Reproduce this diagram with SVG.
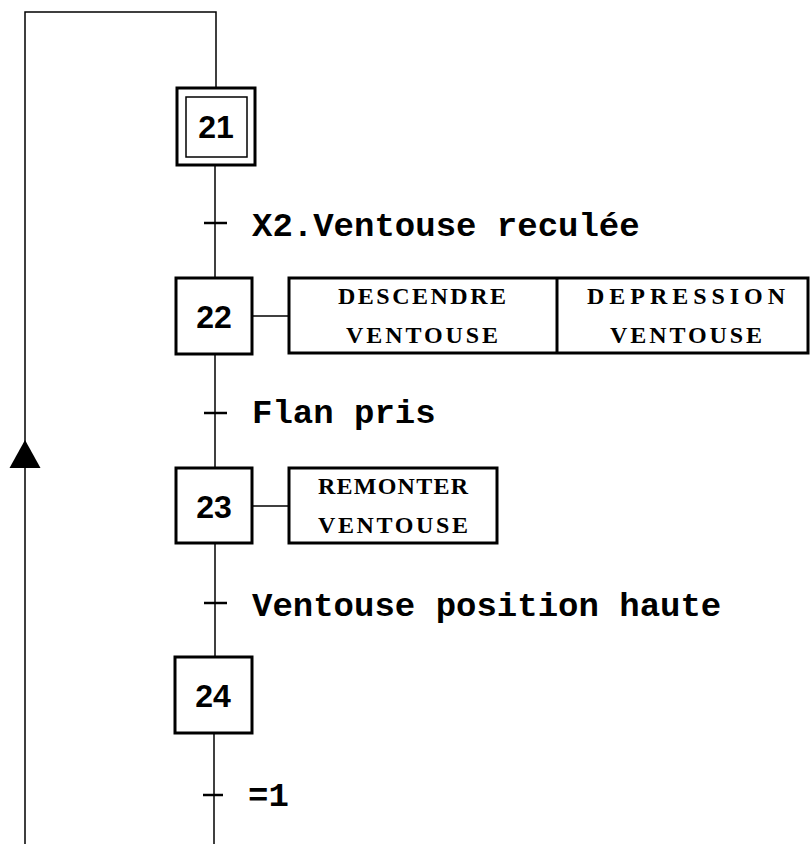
<svg xmlns="http://www.w3.org/2000/svg" width="811" height="844" viewBox="0 0 811 844">
<style>
.ln{stroke:#000;stroke-width:1.5;fill:none}
.box{stroke:#000;stroke-width:3;fill:#fff}
.inner{stroke:#000;stroke-width:1.5;fill:none}
.tick{stroke:#000;stroke-width:2.5}
.num{font-family:"Liberation Sans",Arial,sans-serif;font-weight:bold;font-size:32px;text-anchor:middle}
.cond{font-family:"Liberation Mono","Courier New",monospace;font-weight:bold;font-size:34px}
.act{font-family:"Liberation Serif","Times New Roman",serif;font-weight:bold;font-size:24px;text-anchor:middle}
</style>
<g id="connectors">
<path class="ln" d="M25,844 V12 H216 V87"/>
<path d="M25,440 L9.5,468 L40.5,468 Z" fill="#000"/>
<path class="ln" d="M215,165 V278"/>
<path class="ln" d="M215,354 V468"/>
<path class="ln" d="M215,543 V657"/>
<path class="ln" d="M214,733 V844"/>
<path class="ln" d="M252,316 H288"/>
<path class="ln" d="M252,506 H288"/>
<line class="tick" x1="204" y1="223" x2="227" y2="223"/>
<line class="tick" x1="204" y1="413" x2="227" y2="413"/>
<line class="tick" x1="204" y1="603" x2="227" y2="603"/>
<line class="tick" x1="203" y1="795" x2="223" y2="795"/>
</g>
<g id="t21"><text class="cond" x="252" y="236">X2.Ventouse reculée</text></g>
<g id="t22"><text class="cond" x="252" y="423">Flan pris</text></g>
<g id="t23"><text class="cond" x="252" y="616">Ventouse position haute</text></g>
<g id="t24"><text class="cond" x="248" y="806">=1</text></g>
<g id="step21">
<rect class="box" x="177" y="88" width="78" height="77"/>
<rect class="inner" x="186" y="97" width="61" height="60"/>
<text class="num" x="216" y="138">21</text>
</g>
<g id="step22">
<rect class="box" x="176" y="278" width="76" height="76"/>
<text class="num" x="214" y="328">22</text>
</g>
<g id="action22">
<rect class="box" x="289" y="278" width="519" height="75"/>
<line class="box" x1="557" y1="278" x2="557" y2="353"/>
<text class="act" x="422" y="304" textLength="168" lengthAdjust="spacing">DESCENDRE</text>
<text class="act" x="422" y="343" textLength="152" lengthAdjust="spacing">VENTOUSE</text>
<text class="act" x="686" y="304" textLength="198" lengthAdjust="spacing">DEPRESSION</text>
<text class="act" x="686" y="343" textLength="152" lengthAdjust="spacing">VENTOUSE</text>
</g>
<g id="step23">
<rect class="box" x="176" y="468" width="76" height="75"/>
<text class="num" x="214" y="518">23</text>
</g>
<g id="action23">
<rect class="box" x="289" y="468" width="208" height="75"/>
<text class="act" x="393" y="494" textLength="150" lengthAdjust="spacing">REMONTER</text>
<text class="act" x="393" y="533" textLength="150" lengthAdjust="spacing">VENTOUSE</text>
</g>
<g id="step24">
<rect class="box" x="175" y="657" width="77" height="76"/>
<text class="num" x="213" y="707">24</text>
</g>
</svg>
